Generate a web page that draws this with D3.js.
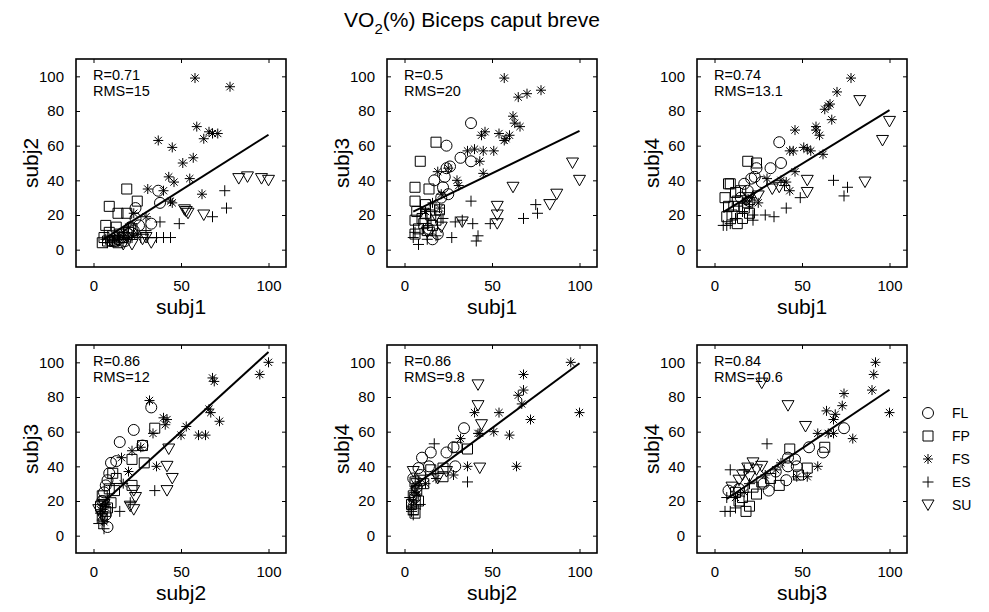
<!DOCTYPE html>
<html><head><meta charset="utf-8">
<script src="https://cdn.jsdelivr.net/npm/d3@7"></script>
<style>body{margin:0;background:#fff}svg{display:block}text{font-family:"Liberation Sans",Arial,Helvetica,sans-serif;fill:#000}</style>
</head><body><svg id="c" width="989" height="612"></svg>
<script>
// ---------- DATA ----------
const classes = ["FL","FP","FS","ES","SU"];
const xTicks = [0,50,100];
const yTicks = [0,20,40,60,80,100];
const xLabels = ["subj1","subj1","subj1","subj2","subj2","subj3"];
const yLabels = ["subj2","subj3","subj4","subj3","subj4","subj4"];
const rValues = ["0.71","0.5","0.74","0.86","0.86","0.84"];
const rmsValues = ["15","20","13.1","12","9.8","10.6"];
// regression lines: [intercept, slope, xStart, xEnd]
const fitLines = [[2.3,0.64,5,100],[19.5,0.49,5,100],[18.5,0.62,5,100],[14,0.92,4,100],[24.6,0.749,4,100],[16.5,0.677,7,100]];

// panel 1: subj1 vs subj2
const p1FL=[[37,34],[38,27],[33,15],[24,24],[24,18],[23,11],[20,9],[17,7],[14,6],[12,5],[26,14],[21,13],[10,5],[18,5]];
const p1FP=[[19,35],[9,25],[14,21],[25,28],[19,21],[7,14],[13,13],[9,10],[6,7],[8,5],[11,8],[15,9],[12,5],[17,7],[20,10],[5,4],[14,4],[22,12]];
const p1FS=[[58,99],[78,94],[59,71],[66,68],[63,64],[68,67],[71,67],[37,63],[45,59],[57,53],[51,50],[43,42],[46,39],[55,41],[40,34],[31,35],[62,32],[45,27],[44,28],[30,19],[23,21],[20,13],[17,10],[15,8],[22,8],[25,9],[12,6],[19,6]];
const p1ES=[[75,34],[76,24],[68,19],[49,15],[38,16],[40,7],[36,7],[31,7],[27,7],[22,7],[18,7],[14,6],[10,5],[8,4],[30,11],[7,6],[44,7]];
const p1SU=[[83,41],[88,42],[96,41],[100,40],[53,22],[54,21],[52,23],[63,20],[33,4],[28,6],[22,3],[17,3],[14,5],[30,7]];
// panel 2: subj1 vs subj3
const p2FL=[[38,73],[24,60],[32,53],[38,51],[24,47],[23,42],[17,40],[25,32],[21,30],[16,6],[19,9],[14,12],[22,36],[26,48]];
const p2FP=[[18,62],[9,51],[6,36],[14,35],[6,28],[12,26],[20,23],[7,22],[12,21],[15,20],[6,17],[11,15],[16,14],[8,12],[13,11],[10,18],[18,17],[6,9]];
const p2FS=[[57,99],[65,88],[70,90],[78,92],[62,77],[63,73],[66,71],[44,66],[46,68],[54,67],[60,66],[57,63],[58,64],[36,57],[40,58],[45,57],[51,57],[43,51],[45,44],[19,45],[25,47],[30,40],[31,37],[21,32],[16,27],[12,22],[20,24]];
const p2ES=[[38,28],[75,26],[76,21],[68,18],[49,15],[39,15],[42,8],[41,5],[27,7],[22,18],[6,10],[8,3],[5,7],[33,17],[29,16],[13,6],[18,8]];
const p2SU=[[96,50],[100,40],[62,36],[87,32],[83,26],[53,25],[53,20],[53,15],[33,16],[21,13],[13,10],[18,19]];
// panel 3: subj1 vs subj4
const p3FL=[[37,62],[38,50],[32,47],[24,47],[23,42],[21,41],[27,39],[17,38],[19,34],[15,30],[20,28]];
const p3FP=[[19,51],[24,50],[8,38],[9,38],[6,30],[15,34],[7,19],[13,15],[11,25],[17,24],[20,21],[10,20],[13,28],[16,18],[8,25],[12,33],[19,27]];
const p3FS=[[78,99],[70,91],[66,84],[63,81],[65,83],[67,75],[46,69],[58,71],[58,69],[60,66],[43,57],[45,57],[51,59],[53,58],[55,57],[62,55],[46,45],[30,41],[38,40],[41,39],[43,34],[21,30],[18,28],[25,27]];
const p3ES=[[68,40],[76,36],[74,31],[49,30],[41,24],[34,19],[29,20],[22,17],[22,20],[5,14],[7,14],[9,15],[40,37],[20,26],[16,22],[12,18]];
const p3SU=[[83,86],[100,74],[96,63],[86,39],[53,40],[53,33],[33,35],[37,36],[20,30],[25,31]];
// panel 4: subj2 vs subj3
const p4FL=[[33,74],[23,61],[15,54],[10,42],[13,43],[28,52],[8,32],[7,29],[8,5],[9,36],[6,25],[5,20],[7,12]];
const p4FP=[[35,62],[28,52],[22,44],[29,42],[11,36],[13,33],[22,29],[12,26],[5,23],[10,19],[4,17],[6,20],[7,14],[9,27],[5,10],[8,16]];
const p4FS=[[100,100],[95,93],[68,91],[69,89],[32,78],[40,68],[42,67],[41,64],[53,63],[66,73],[67,71],[72,66],[50,58],[60,58],[64,58],[34,59],[36,40],[27,51],[22,49],[16,45],[20,37],[17,30],[6,8],[5,12],[7,18],[4,15]];
const p4ES=[[35,26],[21,19],[15,14],[3,7],[6,4],[4,13],[5,9],[6,16]];
const p4SU=[[43,50],[42,40],[45,33],[42,26],[23,26],[24,22],[21,17],[23,15],[3,15],[6,18],[5,11]];
// panel 5: subj2 vs subj4
const p5FL=[[34,62],[28,51],[24,48],[15,48],[10,45],[8,39],[29,40],[14,40],[5,33],[7,28],[6,22],[9,35]];
const p5FP=[[36,50],[30,51],[22,39],[15,38],[22,34],[9,32],[6,31],[5,23],[6,13],[4,18],[7,26],[5,15],[8,20],[11,30]];
const p5FS=[[95,100],[68,93],[68,84],[65,81],[67,76],[100,71],[54,71],[40,71],[72,67],[42,59],[43,59],[51,60],[60,58],[32,56],[64,40],[36,40],[28,35],[18,33],[12,30],[6,25],[5,20],[4,17],[7,24]];
const p5ES=[[17,53],[36,31],[9,18],[4,14],[4,16],[5,12],[6,27],[3,22]];
const p5SU=[[42,87],[42,75],[44,64],[43,39],[5,37],[19,33],[24,37],[7,30]];
// panel 6: subj3 vs subj4
const p6FL=[[74,62],[54,51],[62,48],[42,45],[42,40],[47,40],[41,32],[31,26],[8,26],[14,27],[28,30],[35,37],[46,44]];
const p6FP=[[63,51],[43,50],[53,39],[48,35],[37,29],[24,24],[18,14],[14,20],[16,22],[22,28],[27,31],[32,33],[20,17],[12,25]];
const p6FS=[[92,100],[91,93],[90,84],[74,82],[73,75],[100,71],[64,72],[69,70],[68,67],[79,56],[59,59],[65,59],[68,59],[38,42],[59,40],[53,34],[47,34],[29,35],[35,38],[17,25],[12,22]];
const p6ES=[[30,53],[9,38],[6,14],[9,14],[17,38],[12,16],[20,30],[7,22]];
const p6SU=[[27,88],[42,75],[52,63],[22,42],[27,40],[16,35],[24,38],[19,39],[14,32],[20,34],[10,28]];

const panelData = [
  {FL:p1FL,FP:p1FP,FS:p1FS,ES:p1ES,SU:p1SU},
  {FL:p2FL,FP:p2FP,FS:p2FS,ES:p2ES,SU:p2SU},
  {FL:p3FL,FP:p3FP,FS:p3FS,ES:p3ES,SU:p3SU},
  {FL:p4FL,FP:p4FP,FS:p4FS,ES:p4ES,SU:p4SU},
  {FL:p5FL,FP:p5FP,FS:p5FS,ES:p5ES,SU:p5SU},
  {FL:p6FL,FP:p6FP,FS:p6FS,ES:p6ES,SU:p6SU}
];

// ---------- DRAW ----------
const svg = d3.select("#c");
const W = 210, H = 208;
const lefts = [76,387,697], tops = [59,345];

function markerPath(t){
  switch(t){
    case "FL": return d3.symbol(d3.symbolCircle, Math.PI*5.5*5.5)();
    case "FP": return "M-5,-5H5V5H-5Z";
    case "FS": return "M-5,0H5M0,-5V5M-3.6,-3.6L3.6,3.6M-3.6,3.6L3.6,-3.6";
    case "ES": return "M-5.5,0H5.5M0,-5.5V5.5";
    case "SU": return "M-6,-5L6,-5L0,5.5Z";
  }
}

for(let i=0;i<6;i++){
  const L = lefts[i%3], T = tops[Math.floor(i/3)];
  const g = svg.append("g").attr("transform",`translate(${L},${T})`);
  const x = d3.scaleLinear().domain([-10,110]).range([0,W]);
  const y = d3.scaleLinear().domain([-10,110]).range([H,0]);

  g.append("g").attr("transform",`translate(0,${H})`)
    .call(d3.axisBottom(x).tickValues(xTicks).tickSize(-4).tickPadding(10))
    .call(a=>{a.select(".domain").remove();a.selectAll("text").attr("font-size",15).attr("dy","0.9em");});
  g.append("g")
    .call(d3.axisLeft(y).tickValues(yTicks).tickSize(-4).tickPadding(12))
    .call(a=>{a.select(".domain").remove();a.selectAll("text").attr("font-size",15);});
  g.append("g").call(d3.axisTop(x).tickValues(xTicks).tickSize(-4).tickFormat(""))
    .call(a=>a.select(".domain").remove());
  g.append("g").attr("transform",`translate(${W},0)`).call(d3.axisRight(y).tickValues(yTicks).tickSize(-4).tickFormat(""))
    .call(a=>a.select(".domain").remove());
  g.selectAll(".tick line").attr("stroke","#000");
  g.selectAll(".tick text").attr("font-family","Liberation Sans, Arial, sans-serif").attr("fill","#000");

  g.append("rect").attr("width",W).attr("height",H).attr("fill","none").attr("stroke","#000").attr("stroke-width",1.6);

  const pd = panelData[i];
  classes.forEach(c=>{
    g.append("g").selectAll("path").data(pd[c]).join("path")
      .attr("transform",d=>`translate(${x(d[0])},${y(d[1])})`)
      .attr("d",markerPath(c))
      .attr("fill","none").attr("stroke","#000").attr("stroke-width",1);
  });

  const fl = fitLines[i];
  g.append("line")
    .attr("x1",x(fl[2])).attr("y1",y(fl[0]+fl[1]*fl[2]))
    .attr("x2",x(fl[3])).attr("y2",y(fl[0]+fl[1]*fl[3]))
    .attr("stroke","#000").attr("stroke-width",2);

  g.append("text").attr("x",17).attr("y",21).attr("font-size",14.5).text("R="+rValues[i]);
  g.append("text").attr("x",17).attr("y",37).attr("font-size",14.5).text("RMS="+rmsValues[i]);

  g.append("text").attr("x",W/2).attr("y",H+47).attr("text-anchor","middle").attr("font-size",21).text(xLabels[i]);
  g.append("text").attr("transform",`translate(-38,${H/2}) rotate(-90)`).attr("text-anchor","middle").attr("font-size",21).text(yLabels[i]);
}

// title
const title = svg.append("text").attr("x",472).attr("y",27).attr("text-anchor","middle").attr("font-size",21);
title.append("tspan").text("VO");
title.append("tspan").attr("font-size",15).attr("dy",7).text("2");
title.append("tspan").attr("dy",-7).text("(%) Biceps caput breve");

// legend
const lg = svg.append("g");
classes.forEach((c,k)=>{
  const yy = 413 + k*23;
  lg.append("path").attr("transform",`translate(928,${yy})`).attr("d",markerPath(c))
    .attr("fill","none").attr("stroke","#000").attr("stroke-width",1);
  lg.append("text").attr("x",952).attr("y",yy).attr("dy","0.35em").attr("font-size",14).text(c);
});
</script></body></html>
